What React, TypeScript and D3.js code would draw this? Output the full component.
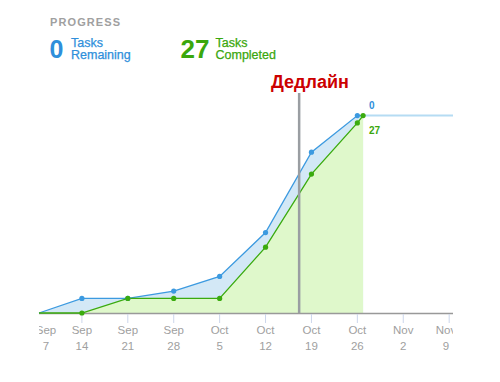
import React from "react";
import * as d3 from "d3";

const pointDates = [
  "2015-09-07T11:00:00Z",
  "2015-09-14T00:00:00Z",
  "2015-09-21T00:00:00Z",
  "2015-09-28T00:00:00Z",
  "2015-10-05T00:00:00Z",
  "2015-10-12T00:00:00Z",
  "2015-10-19T00:00:00Z",
  "2015-10-26T00:00:00Z",
  "2015-10-26T21:00:00Z",
];
const scopeValues = [0, 2, 2, 3, 5, 11, 22, 27, 27];
const completedValues = [0, 0, 2, 2, 2, 9, 19, 26, 27];
const projectionEnd = "2015-11-09T14:00:00Z";
const deadlineDate = "2015-10-17T03:00:00Z";
const deadlineLabel = "Дедлайн";
const domainStart = "2015-09-07T11:00:00Z";
const domainEnd = "2015-11-09T14:00:00Z";
const tickDates = [
  "2015-09-07", "2015-09-14", "2015-09-21", "2015-09-28", "2015-10-05",
  "2015-10-12", "2015-10-19", "2015-10-26", "2015-11-02", "2015-11-09",
];
const tickMonths = ["Sep", "Sep", "Sep", "Sep", "Oct", "Oct", "Oct", "Oct", "Nov", "Nov"];
const tickDays = ["7", "14", "21", "28", "5", "12", "19", "26", "2", "9"];
const remainingCount = 0;
const completedCount = 27;

const BLUE = "#3c9ae0";
const BLUE_TEXT = "#2f8fdb";
const BLUE_FILL = "#d3e8f6";
const BLUE_LIGHT = "#b5dcf3";
const GREEN = "#3aab0e";
const GREEN_TEXT = "#3aa70d";
const GREEN_FILL = "#dff8cb";
const GRAY = "#a0a0a0";
const FONT = "'Liberation Sans', Arial, sans-serif";

export default function App() {
  const x = d3
    .scaleUtc()
    .domain([new Date(domainStart), new Date(domainEnd)])
    .range([39, 453]);
  const y = d3.scaleLinear().domain([0, 27]).range([313, 115.6]);

  const pts = pointDates.map((d, i) => ({
    date: new Date(d),
    scope: scopeValues[i],
    done: completedValues[i],
  }));

  const scopeArea = d3
    .area<any>()
    .x((d) => x(d.date))
    .y0(y(0))
    .y1((d) => y(d.scope))(pts);
  const doneArea = d3
    .area<any>()
    .x((d) => x(d.date))
    .y0(y(0))
    .y1((d) => y(d.done))(pts);
  const scopeLine = d3
    .line<any>()
    .x((d) => x(d.date))
    .y((d) => y(d.scope))(pts);
  const doneLine = d3
    .line<any>()
    .x((d) => x(d.date))
    .y((d) => y(d.done))(pts);

  const last = pts[pts.length - 1];
  const lastX = x(last.date);
  const projX = x(new Date(projectionEnd));
  const dlX = x(new Date(deadlineDate));

  return (
    <svg
      width={500}
      height={382}
      style={{ position: "absolute", left: 0, top: 0, fontFamily: FONT }}
    >
      <defs>
        <clipPath id="xclip">
          <rect x={39} y={300} width={414} height={70} />
        </clipPath>
      </defs>
      <rect width={500} height={382} fill="#fff" />

      {/* Header */}
      <text x={50} y={25.5} fontSize={11} fontWeight="bold" fill={GRAY} letterSpacing={1.1}>
        PROGRESS
      </text>
      <text x={49.5} y={58.3} fontSize={25} fontWeight="bold" fill={BLUE_TEXT}>
        {remainingCount}
      </text>
      <text fontSize={12.5} fill={BLUE_TEXT} stroke={BLUE_TEXT} strokeWidth={0.25}>
        <tspan x={71} y={46.5}>Tasks</tspan>
        <tspan x={71} y={58.5}>Remaining</tspan>
      </text>
      <text x={180.5} y={57.5} fontSize={26} fontWeight="bold" fill={GREEN_TEXT}>
        {completedCount}
      </text>
      <text fontSize={12.5} fill={GREEN_TEXT} stroke={GREEN_TEXT} strokeWidth={0.25}>
        <tspan x={215.5} y={46.5}>Tasks</tspan>
        <tspan x={215.5} y={58.5}>Completed</tspan>
      </text>

      {/* Areas */}
      <path d={scopeArea || ""} fill={BLUE_FILL} />
      <path d={doneArea || ""} fill={GREEN_FILL} />

      {/* Projection line */}
      <line
        x1={lastX}
        x2={projX}
        y1={y(last.scope)}
        y2={y(last.scope)}
        stroke={BLUE_LIGHT}
        strokeWidth={2}
      />

      {/* Axis */}
      <line x1={39} x2={453} y1={313.5} y2={313.5} stroke="#999" strokeWidth={1.5} />
      {tickDates.map((t, i) => {
        const tx = x(new Date(t + "T00:00:00Z"));
        const lx = Math.max(46, Math.min(446, tx));
        return (
          <g key={t}>
            {tx >= 39 && tx <= 453 && (
              <line x1={tx} x2={tx} y1={314} y2={323} stroke="#ccd6eb" strokeWidth={1} />
            )}
            <g clipPath="url(#xclip)">
              <text x={lx} y={333.5} fontSize={11.5} fill={GRAY} textAnchor="middle">
                {tickMonths[i]}
              </text>
              <text x={lx} y={349.5} fontSize={11.5} fill={GRAY} textAnchor="middle">
                {tickDays[i]}
              </text>
            </g>
          </g>
        );
      })}

      {/* Lines */}
      <path d={scopeLine || ""} fill="none" stroke={BLUE} strokeWidth={1.3} />
      <path d={doneLine || ""} fill="none" stroke={GREEN} strokeWidth={1.3} />

      {/* Deadline */}
      <line x1={dlX} x2={dlX} y1={93} y2={313} stroke="#9a9ea2" strokeWidth={2.5} />
      <text x={271} y={88.3} fontSize={18} fontWeight="bold" fill="#cc0000">
        {deadlineLabel}
      </text>

      {/* Markers */}
      {pts.slice(1, -1).map((p, i) => (
        <circle key={"s" + i} cx={x(p.date)} cy={y(p.scope)} r={2.6} fill={BLUE} />
      ))}
      {pts.slice(1).map((p, i) => (
        <circle key={"c" + i} cx={x(p.date)} cy={y(p.done)} r={2.6} fill={GREEN} />
      ))}

      {/* End labels */}
      <text x={369} y={108.5} fontSize={10} fontWeight="bold" fill={BLUE_TEXT}>
        {remainingCount}
      </text>
      <text x={369} y={133.5} fontSize={10} fontWeight="bold" fill={GREEN_TEXT}>
        {completedCount}
      </text>
    </svg>
  );
}
